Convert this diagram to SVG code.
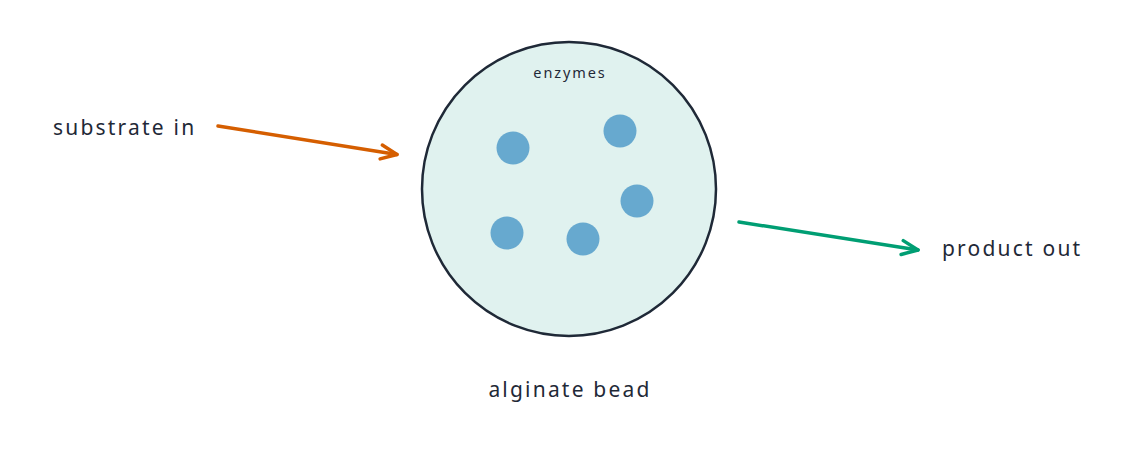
<svg xmlns="http://www.w3.org/2000/svg" width="1140" height="458" viewBox="0 0 1140 458">
<style>
.lbl{font-family:"Noto Sans","DejaVu Sans",sans-serif;fill:#1f2937;font-size:21px;letter-spacing:2.2px}
.small{font-size:14.5px;letter-spacing:1.9px}
.dot{fill:#67a9cf}
.arr{fill:none;stroke-width:3.5;stroke-linecap:round}
</style>
<defs>
<marker id="mo" viewBox="-20 -10 24 20" refX="0" refY="0" markerWidth="24" markerHeight="20" markerUnits="userSpaceOnUse" orient="auto" overflow="visible">
<path d="M-16,-7 L0,0 L-16,7" fill="none" stroke="#d55e00" stroke-width="3.5" stroke-linecap="round" stroke-linejoin="round"/>
</marker>
<marker id="mg" viewBox="-20 -10 24 20" refX="0" refY="0" markerWidth="24" markerHeight="20" markerUnits="userSpaceOnUse" orient="auto" overflow="visible">
<path d="M-16,-7 L0,0 L-16,7" fill="none" stroke="#009e73" stroke-width="3.5" stroke-linecap="round" stroke-linejoin="round"/>
</marker>
</defs>
<g id="bead">
<circle cx="569" cy="189" r="147" fill="#e0f2ef" stroke="#1f2937" stroke-width="2.5"/>
<text class="lbl small" x="570" y="78" text-anchor="middle">enzymes</text>
<circle class="dot" cx="513" cy="148" r="16.5"/>
<circle class="dot" cx="620" cy="131" r="16.5"/>
<circle class="dot" cx="637" cy="201" r="16.5"/>
<circle class="dot" cx="507" cy="233" r="16.5"/>
<circle class="dot" cx="583" cy="239" r="16.5"/>
<text class="lbl" x="570" y="397" text-anchor="middle">alginate bead</text>
</g>
<g id="substrate">
<text class="lbl" x="53" y="135">substrate in</text>
</g>
<g id="product">
<text class="lbl" x="942" y="256">product out</text>
</g>
<g id="connectors">
<line class="arr" x1="218" y1="126" x2="397" y2="154.5" stroke="#d55e00" marker-end="url(#mo)"/>
<line class="arr" x1="739" y1="222" x2="918" y2="250" stroke="#009e73" marker-end="url(#mg)"/>
</g>
</svg>
